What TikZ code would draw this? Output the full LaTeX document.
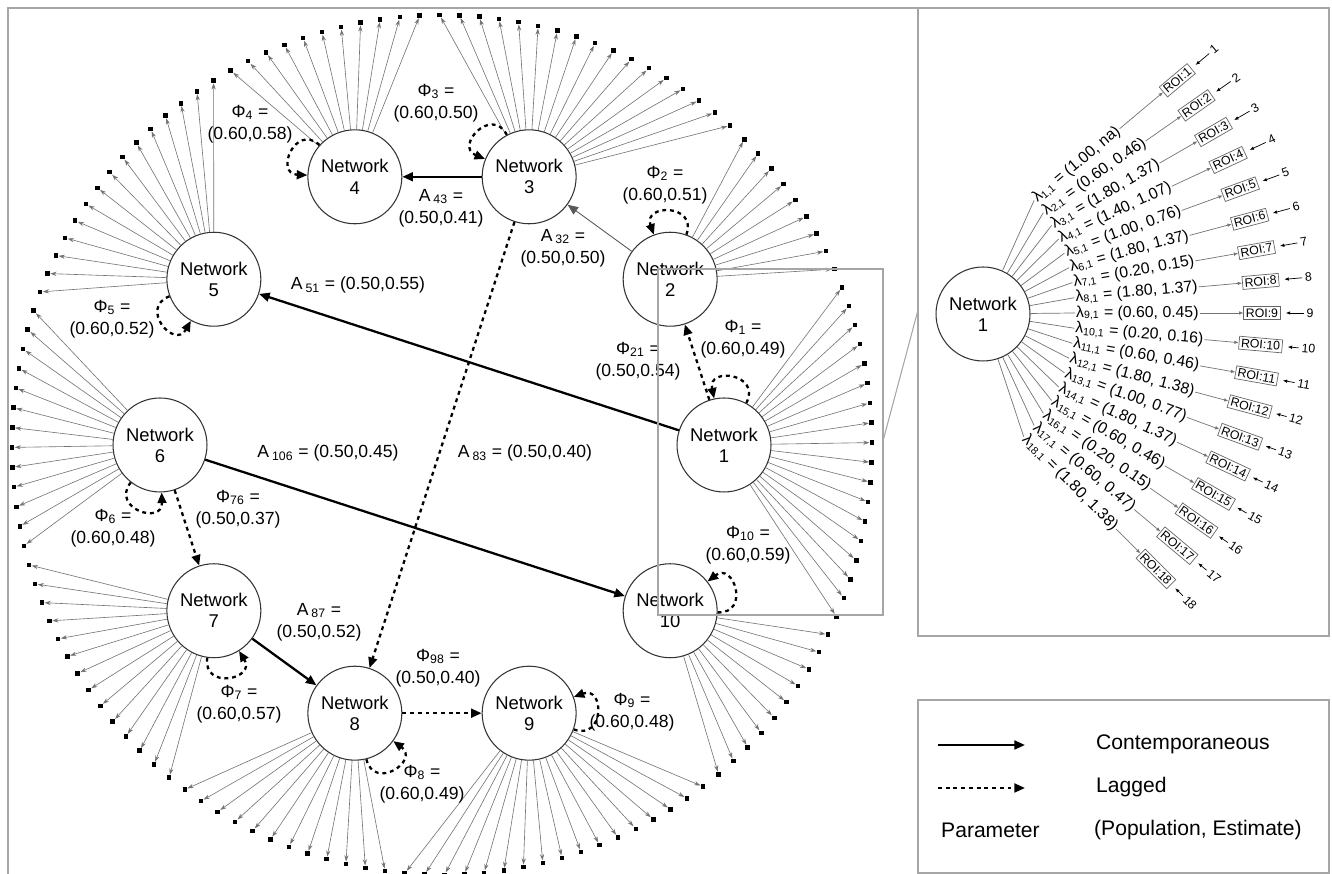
\documentclass[tikz,border=0pt]{standalone}
\usepackage{fontspec}
\setmainfont{Liberation Sans}
\usetikzlibrary{arrows.meta,calc}
\tikzset{
  net/.style={circle, draw=black!80, line width=0.6pt, fill=white, minimum size=1.88cm,
    inner sep=0pt, align=center, font=\fontsize{10.5}{12}\selectfont},
  roiend/.style={rectangle, fill=black, inner sep=0pt, minimum size=2.6pt},
  spoke/.style={draw=black!55, line width=0.35pt, -{Stealth[length=3.5pt,width=2.4pt]}},
  contemp/.style={line width=1.3pt, -{Triangle[length=6pt,width=5pt]}},
  lagged/.style={line width=1.3pt, dash pattern=on 2.2pt off 2.2pt, -{Triangle[length=6pt,width=5pt]}},
  weak/.style={draw=black!65, line width=0.5pt, -{Triangle[length=6pt,width=5pt]}},
  par/.style={align=center, font=\fontsize{10}{12.5}\selectfont},
  frame/.style={draw=gray!70, line width=0.6pt},
  ray/.style={draw=black!55, line width=0.4pt},
  feed/.style={draw=black!55, line width=0.4pt, -{Latex[length=2.5pt,width=2pt]}},
  pointer/.style={line width=0.4pt, shorten <=1pt, shorten >=3pt, -{Latex[length=2.5pt,width=2pt]}},
  lam/.style={anchor=west, inner sep=0.5pt, font=\fontsize{9}{10}\selectfont},
  roibox/.style={draw=black!60, line width=0.4pt, inner sep=1.2pt, font=\fontsize{7}{8}\selectfont},
  idx/.style={inner sep=0.5pt, font=\fontsize{7}{8}\selectfont},
  legend/.style={anchor=west, font=\fontsize{12}{14}\selectfont}
}
\begin{document}
\begin{tikzpicture}[x=0.02cm, y=0.02cm]
  \useasboundingbox (0,0) rectangle (1332,874);
  \draw[frame] (8,0) -- (8,866) -- (918,866);
  \draw[frame] (918,238) rectangle (1329,866);
  \draw[frame] (918,1) rectangle (1329,174);

  \coordinate (c) at (442,429);
  \foreach \i in {1,...,10}
    \node[net] (n\i) at ($(c)+({(\i-1)*36}:282)$) {Network\\\i};

  \foreach \g/\ka/\kb in {1/0/17, 2/18/26, 3/27/43, 4/44/54, 5/55/69,
                          6/70/82, 7/83/96, 8/97/108, 9/109/125, 10/126/135}{
    \foreach \k in {\ka,...,\kb}{
      \node[roiend] (r\k) at ($(c)+({-23.5+\k*2.647059}:430)$) {};
      \draw[spoke] (n\g) -- (r\k);
    }
  }

  \foreach \g/\b [evaluate=\b as \ba using \b-20, evaluate=\b as \bb using \b+20]
      in {1/82, 2/90, 3/138, 4/158, 5/221, 6/252, 7/282, 8/304, 9/0, 10/18}
    \draw[lagged] (n\g.\ba) to[out=\ba, in=\bb, looseness=2.6] (n\g.\bb);

  \draw[contemp] (n1) -- (n5);
  \draw[contemp] (n3) -- (n4);
  \draw[weak] (n2) -- (n3);
  \draw[lagged] (n3) -- (n8);
  \draw[contemp] (n6) -- (n10);
  \draw[lagged] (n6) -- (n7);
  \draw[contemp] (n7) -- (n8);
  \draw[lagged] (n8) -- (n9);
  \draw[lagged] (n1) -- (n2);

  \node[par] (f1) at (743,535) {Φ\textsubscript{1} =\\(0.60,0.49)};
  \node[par] (f21) at (638,513) {Φ\textsubscript{21} =\\(0.50,0.54)};
  \node[par] (f2) at (665,689) {Φ\textsubscript{2} =\\(0.60,0.51)};
  \node[par] (a32) at (563,626) {A\,\textsubscript{32} =\\(0.50,0.50)};
  \node[par] (f3) at (436,771) {Φ\textsubscript{3} =\\(0.60,0.50)};
  \node[par] (a43) at (441,666) {A\,\textsubscript{43} =\\(0.50,0.41)};
  \node[par] (f4) at (250,750) {Φ\textsubscript{4} =\\(0.60,0.58)};
  \node[par] (a51) at (358,589) {A\,\textsubscript{51} = (0.50,0.55)};
  \node[par] (f5) at (112,555) {Φ\textsubscript{5} =\\(0.60,0.52)};
  \node[par] (f6) at (113,346) {Φ\textsubscript{6} =\\(0.60,0.48)};
  \node[par] (a106) at (328,421) {A\,\textsubscript{106} = (0.50,0.45)};
  \node[par] (a83) at (525,421) {A\,\textsubscript{83} = (0.50,0.40)};
  \node[par] (f76) at (238,365) {Φ\textsubscript{76} =\\(0.50,0.37)};
  \node[par] (a87) at (319,252) {A\,\textsubscript{87} =\\(0.50,0.52)};
  \node[par] (f7) at (239,170) {Φ\textsubscript{7} =\\(0.60,0.57)};
  \node[par] (f98) at (438,206) {Φ\textsubscript{98} =\\(0.50,0.40)};
  \node[par] (f8) at (422,90) {Φ\textsubscript{8} =\\(0.60,0.49)};
  \node[par] (f9) at (632,162) {Φ\textsubscript{9} =\\(0.60,0.48)};
  \node[par] (f10) at (748,329) {Φ\textsubscript{10} =\\(0.60,0.59)};

  \draw[frame] (658,605) rectangle (883,259);
  \coordinate (zr) at (883,433);
  \coordinate (zp) at (918,564);
  \draw[frame] (zr) -- (zp);

  \coordinate (p) at (900,561);
  \node[net] (m1) at (983,560) {Network\\1};
  \foreach \i/\v in {1/{(1.00, na)}, 2/{(0.60, 0.46)}, 3/{(1.80, 1.37)}, 4/{(1.40, 1.07)},
                     5/{(1.00, 0.76)}, 6/{(1.80, 1.37)}, 7/{(0.20, 0.15)}, 8/{(1.80, 1.37)},
                     9/{(0.60, 0.45)}, 10/{(0.20, 0.16)}, 11/{(0.60, 0.46)}, 12/{(1.80, 1.38)},
                     13/{(1.00, 0.77)}, 14/{(1.80, 1.37)}, 15/{(0.60, 0.46)}, 16/{(0.20, 0.15)},
                     17/{(0.60, 0.47)}, 18/{(1.80, 1.38)}}{
    \pgfmathsetmacro\ang{5*(9-\i)}
    \coordinate (s\i) at ($(p)+(\ang:175)$);
    \draw[ray] (m1) -- (s\i);
    \node[lam, rotate=\ang] (lam\i) at (s\i) {λ\textsubscript{\i,1} = \v};
    \node[roibox, rotate=\ang] (box\i) at ($(p)+(\ang:362)$) {ROI:\i};
    \node[idx, rotate=\ang] (idx\i) at ($(p)+(\ang:410)$) {\i};
    \draw[feed] (lam\i.east) -- (box\i.west);
    \draw[pointer] (idx\i.west) -- (box\i.east);
  }

  \coordinate (lc1) at (938,129);
  \coordinate (lc2) at (1025,129);
  \coordinate (ll1) at (938,86);
  \coordinate (ll2) at (1025,86);
  \draw[contemp] (lc1) -- (lc2);
  \draw[lagged] (ll1) -- (ll2);
  \node[legend] (tc) at (1090,130) {Contemporaneous};
  \node[legend] (tl) at (1090,87) {Lagged};
  \node[legend] (tp) at (935,44) {Parameter};
  \node[legend] (te) at (1088,44) {(Population, Estimate)};
\end{tikzpicture}
\end{document}
